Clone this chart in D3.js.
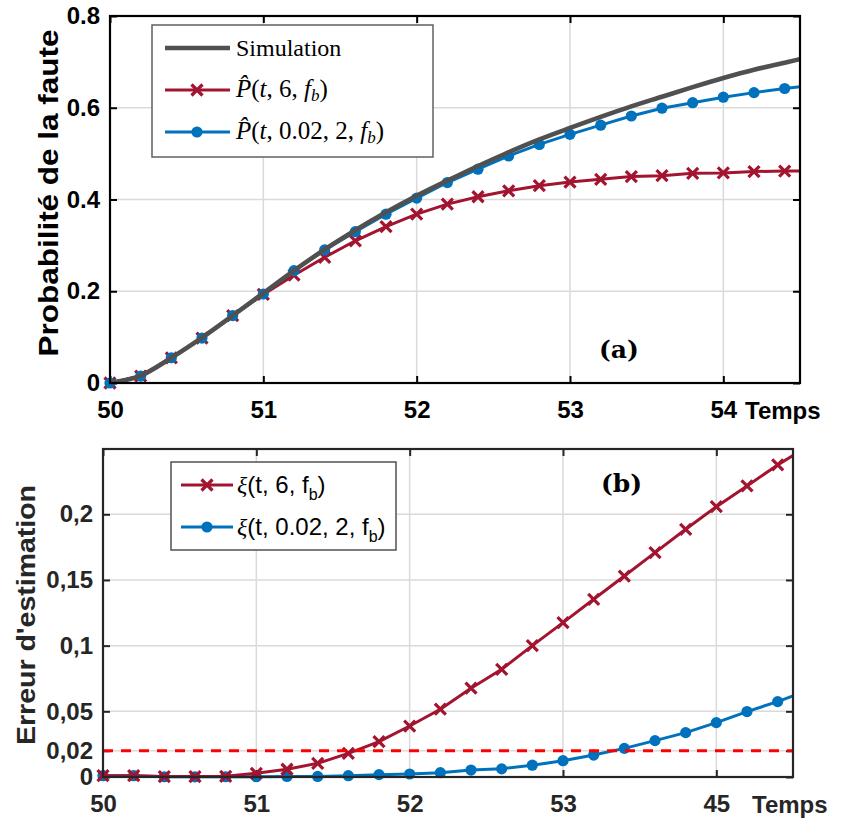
<!DOCTYPE html>
<html><head><meta charset="utf-8">
<script src="https://cdn.jsdelivr.net/npm/d3@7/dist/d3.min.js"></script>
<style>body{margin:0;background:#fff}</style>
</head><body>
<script>
// ---------- data ----------
const times = [50,50.2,50.4,50.6,50.8,51,51.2,51.4,51.6,51.8,52,52.2,52.4,52.6,52.8,53,53.2,53.4,53.6,53.8,54,54.2,54.4,54.5];
const simulation = [0,0.016,0.055,0.099,0.147,0.196,0.245,0.291,0.333,0.372,0.408,0.441,0.473,0.503,0.531,0.556,0.580,0.603,0.624,0.645,0.665,0.683,0.698,0.706];
const pHat6 = [0,0.015,0.055,0.098,0.147,0.193,0.235,0.274,0.310,0.341,0.368,0.390,0.406,0.419,0.430,0.438,0.444,0.450,0.452,0.457,0.458,0.461,0.462,0.462];
const pHat002 = [0,0.015,0.055,0.098,0.147,0.194,0.245,0.290,0.330,0.368,0.403,0.437,0.466,0.495,0.520,0.542,0.562,0.582,0.599,0.611,0.623,0.633,0.642,0.646];
const xi6 = [0.001,0.001,0.0003,0.0003,0.0005,0.0028,0.0059,0.0104,0.018,0.0269,0.0388,0.0516,0.0676,0.082,0.100,0.1175,0.1353,0.153,0.1708,0.1886,0.2058,0.2216,0.2376,0.2447];
const xi002 = [0.001,0.001,0.0002,0.0001,0.0002,0.0002,0.0004,0.0004,0.001,0.0018,0.0023,0.0033,0.0053,0.0062,0.009,0.0124,0.0167,0.0218,0.0277,0.0338,0.0414,0.0498,0.0574,0.0617];
const threshold = 0.02;
const lastMarkerTime = 54.4;

const xTicks = [50,51,52,53,54];
const xTickLabelsTop = ["50","51","52","53","54"];
const xTickLabelsBottom = ["50","51","52","53","45"];
const yTicksTop = [0,0.2,0.4,0.6,0.8];
const yTickLabelsTop = ["0","0.2","0.4","0.6","0.8"];
const yTicksBottom = [0,0.02,0.05,0.1,0.15,0.2];
const yTickLabelsBottom = ["0","0,02","0,05","0,1","0,15","0,2"];

// ---------- styles ----------
const RED = "#A2142F", BLUE = "#0072BD", GRAY = "#505050", GRID = "#dadada";
const SANS = "'Liberation Sans', Arial, sans-serif";
const SERIF = "'Liberation Serif', 'Times New Roman', serif";

const svg = d3.select("body").append("svg").attr("width",843).attr("height",823)
  .style("font-family", SANS);

function drawPanel(cfg){
  const x = d3.scaleLinear().domain([50,54.5]).range([cfg.left,cfg.right]);
  const y = d3.scaleLinear().domain(cfg.yDomain).range([cfg.bottom,cfg.top]);
  const g = svg.append("g");
  g.selectAll(".vg").data(xTicks.filter(d=>d>50)).join("line")
    .attr("x1",d=>x(d)).attr("x2",d=>x(d)).attr("y1",cfg.top).attr("y2",cfg.bottom)
    .attr("stroke",GRID).attr("stroke-width",1.5);
  g.selectAll(".hg").data(cfg.yTicks.filter(d=>d>cfg.yDomain[0] && d<cfg.yDomain[1])).join("line")
    .attr("x1",cfg.left).attr("x2",cfg.right).attr("y1",d=>y(d)).attr("y2",d=>y(d))
    .attr("stroke",GRID).attr("stroke-width",1.5);
  const ax = g.append("g").attr("transform",`translate(0,${cfg.bottom})`)
    .call(d3.axisBottom(x).tickValues(xTicks).tickSize(-7).tickPadding(18)
      .tickFormat((d,i)=>cfg.xLabels[i]));
  const ay = g.append("g").attr("transform",`translate(${cfg.left},0)`)
    .call(d3.axisLeft(y).tickValues(cfg.yTicks).tickSize(-7).tickPadding(10)
      .tickFormat((d,i)=>cfg.yLabels[i]));
  const axT = g.append("g").attr("transform",`translate(0,${cfg.top})`)
    .call(d3.axisTop(x).tickValues(xTicks).tickSize(-7).tickFormat(""));
  const ayR = g.append("g").attr("transform",`translate(${cfg.right},0)`)
    .call(d3.axisRight(y).tickValues(cfg.yTicks).tickSize(-7).tickFormat(""));
  [ax,ay,axT,ayR].forEach(a=>{
    a.select(".domain").remove();
    a.selectAll(".tick line").attr("stroke",cfg.axisColor).attr("stroke-width",2);
    a.selectAll(".tick text").attr("fill",cfg.axisColor)
      .style("font-family",SANS).style("font-size","24px").style("font-weight","bold");
  });
  return {x,y,g};
}

function drawFrame(cfg){
  svg.append("rect").attr("x",cfg.left).attr("y",cfg.top)
    .attr("width",cfg.right-cfg.left).attr("height",cfg.bottom-cfg.top)
    .attr("fill","none").attr("stroke",cfg.axisColor).attr("stroke-width",2.2);
}

const crossPath = "M-5.5,-5.5L5.5,5.5M-5.5,5.5L5.5,-5.5";
function drawSeries(g,x,y,values,color,width,marker,curve){
  const data = times.map((t,i)=>({t,v:values[i]}));
  g.append("path").datum(data)
    .attr("d",d3.line().x(d=>x(d.t)).y(d=>y(d.v)).curve(curve||d3.curveLinear))
    .attr("fill","none").attr("stroke",color).attr("stroke-width",width)
    .attr("stroke-linejoin","round");
  const md = data.filter(d=>d.t<=lastMarkerTime+1e-9);
  if(marker==="x"){
    g.selectAll(null).data(md).join("path")
      .attr("transform",d=>`translate(${x(d.t)},${y(d.v)})`)
      .attr("d",crossPath).attr("stroke",color).attr("stroke-width",3.2).attr("fill","none");
  } else if(marker==="o"){
    g.selectAll(null).data(md).join("circle")
      .attr("cx",d=>x(d.t)).attr("cy",d=>y(d.v)).attr("r",5.6).attr("fill",color);
  }
}

// ---------- panel (a) ----------
const cfgA = {left:110,right:800,top:16,bottom:383,yDomain:[0,0.8],yTicks:yTicksTop,
  yLabels:yTickLabelsTop,xLabels:xTickLabelsTop,axisColor:"#000"};
const A = drawPanel(cfgA);
drawSeries(A.g,A.x,A.y,pHat6,RED,3,"x");
drawSeries(A.g,A.x,A.y,pHat002,BLUE,3,"o");
drawSeries(A.g,A.x,A.y,simulation,GRAY,4.6,null,d3.curveMonotoneX);
drawFrame(cfgA);

svg.append("text").attr("x",745).attr("y",419).text("Temps")
  .style("font-size","24px").style("font-weight","bold").attr("fill","#000");
svg.append("text").attr("transform","translate(58,193) rotate(-90)").attr("text-anchor","middle")
  .text("Probabilité de la faute").style("font-size","27px").style("font-weight","bold")
  .attr("textLength",327).attr("lengthAdjust","spacingAndGlyphs");
svg.append("text").attr("x",599).attr("y",358).text("(a)")
  .style("font-family","'DejaVu Serif', serif").style("font-weight","bold").style("font-size","25px");

// legend (a)
const legA = svg.append("g");
legA.append("rect").attr("x",152).attr("y",25).attr("width",281).attr("height",132)
  .attr("fill","#fff").attr("stroke","#606060").attr("stroke-width",1.5);
const legAItems = [{c:GRAY,w:4.6,m:null,y:48},{c:RED,w:3,m:"x",y:90},{c:BLUE,w:3,m:"o",y:132}];
legAItems.forEach(it=>{
  legA.append("line").attr("x1",165).attr("x2",230).attr("y1",it.y).attr("y2",it.y)
    .attr("stroke",it.c).attr("stroke-width",it.w);
  if(it.m==="x") legA.append("path").attr("transform",`translate(197,${it.y})`).attr("d",crossPath)
    .attr("stroke",it.c).attr("stroke-width",3.2);
  if(it.m==="o") legA.append("circle").attr("cx",197).attr("cy",it.y).attr("r",5.6).attr("fill",it.c);
});
legA.append("text").attr("x",236).attr("y",56).text("Simulation")
  .style("font-family",SERIF).style("font-size","24px");
function pHatLabel(yb, args){
  const t = legA.append("text").attr("x",236).attr("y",yb).style("font-family",SERIF).style("font-size","25px");
  t.append("tspan").style("font-style","italic").text("P\u0302");
  t.append("tspan").text("(");
  t.append("tspan").style("font-style","italic").text("t");
  t.append("tspan").text(", "+args+", ");
  t.append("tspan").style("font-style","italic").text("f");
  t.append("tspan").style("font-style","italic").style("font-size","17px").attr("dy",4).text("b");
  t.append("tspan").attr("dy",-4).text(")");
}
pHatLabel(97,"6");
pHatLabel(139,"0.02, 2");

// ---------- panel (b) ----------
const cfgB = {left:103,right:793,top:449,bottom:777,yDomain:[0,0.2497],yTicks:yTicksBottom,
  yLabels:yTickLabelsBottom,xLabels:xTickLabelsBottom,axisColor:"#262626"};
const B = drawPanel(cfgB);
drawSeries(B.g,B.x,B.y,xi002,BLUE,3,"o");
drawSeries(B.g,B.x,B.y,xi6,RED,3,"x");
B.g.append("line").attr("x1",cfgB.left).attr("x2",cfgB.right)
  .attr("y1",B.y(threshold)).attr("y2",B.y(threshold))
  .attr("stroke","#ff0000").attr("stroke-width",3).attr("stroke-dasharray","10,8");
drawFrame(cfgB);

svg.append("text").attr("x",752).attr("y",813).text("Temps")
  .style("font-size","24px").style("font-weight","bold").attr("fill","#262626");
svg.append("text").attr("transform","translate(35,615) rotate(-90)").attr("text-anchor","middle")
  .text("Erreur d'estimation").style("font-size","26px").style("font-weight","bold").attr("fill","#262626")
  .attr("textLength",260).attr("lengthAdjust","spacingAndGlyphs");
svg.append("text").attr("x",601).attr("y",492).text("(b)")
  .style("font-family","'DejaVu Serif', serif").style("font-weight","bold").style("font-size","25px");

// legend (b)
const legB = svg.append("g");
legB.append("rect").attr("x",171).attr("y",462).attr("width",225).attr("height",88)
  .attr("fill","#fff").attr("stroke","#505050").attr("stroke-width",1.5);
[{c:RED,m:"x",y:485,a:"6"},{c:BLUE,m:"o",y:527,a:"0.02, 2"}].forEach(it=>{
  legB.append("line").attr("x1",181).attr("x2",233).attr("y1",it.y).attr("y2",it.y)
    .attr("stroke",it.c).attr("stroke-width",3);
  if(it.m==="x") legB.append("path").attr("transform",`translate(207,${it.y})`).attr("d",crossPath)
    .attr("stroke",it.c).attr("stroke-width",3.2);
  else legB.append("circle").attr("cx",207).attr("cy",it.y).attr("r",5.6).attr("fill",it.c);
  const t = legB.append("text").attr("x",237).attr("y",it.y+8).style("font-size","24px").attr("fill","#000");
  t.append("tspan").style("font-family",SERIF).style("font-style","italic").text("ξ");
  t.append("tspan").text("(t, "+it.a+", f");
  t.append("tspan").style("font-size","16px").attr("dy",7).text("b");
  t.append("tspan").attr("dy",-7).text(")");
});
</script>
</body></html>
